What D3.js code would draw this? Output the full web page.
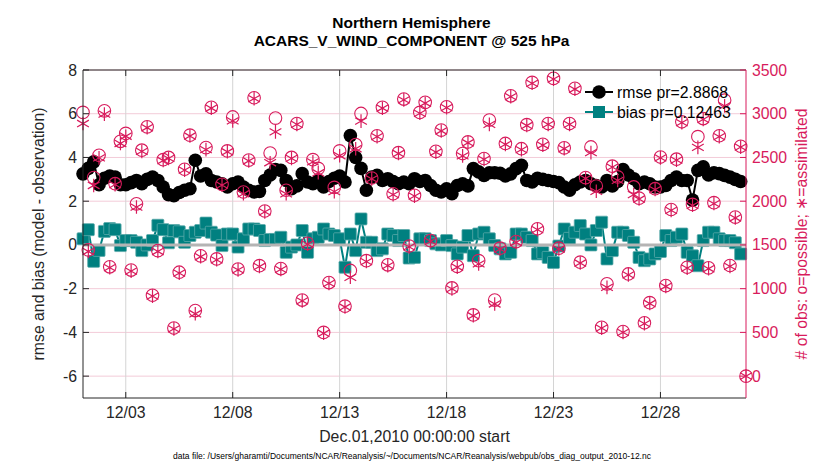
<!DOCTYPE html>
<html>
<head>
<meta charset="utf-8">
<script src="https://cdn.jsdelivr.net/npm/d3@7"></script>
<style>
    body { margin: 0; background: #fff; }
    text { font-family: "Liberation Sans", Arial, Helvetica, sans-serif; }
</style>
</head>
<body>
<div id="chart"></div>
<script>
'use strict';

// 6-hourly values, Dec 01 2010 00Z onwards (4 per day)
const rmse = [
    3.25, 3.5, 3.8, 2.75,   3.05, 3.15, 3.1, 2.75,   2.75, 2.85, 2.95, 2.8,   3.0, 3.1, 2.95, 2.65,
    2.3, 2.25, 2.4, 2.5,    2.57, 3.87, 3.15, 3.25,  2.95, 2.88, 2.8, 2.65,   2.8, 2.88, 2.65, 2.5,
    2.42, 2.45, 2.95, 3.2,  3.45, 3.41, 2.95, 2.57,  2.7, 3.26, 2.88, 2.8,    2.95, 2.65, 2.9, 3.05,
    3.15, 2.88, 5.0, 4.0,   3.5, 2.5, 3.1, 3.18,     2.95, 3.03, 2.9, 2.8,    2.88, 2.8, 3.03, 2.9,
    2.95, 2.72, 2.5, 2.42,  2.57, 2.34, 2.72, 2.8,   2.7, 3.49, 3.34, 3.18,   3.3, 3.3, 3.28, 3.15,
    3.25, 3.49, 3.64, 2.95, 2.88, 3.05, 3.0, 2.95,   2.9, 2.85, 2.65, 2.5,    2.75, 2.88, 2.95, 2.8,
    2.72, 2.65, 2.95, 2.7,  2.9, 3.45, 3.2, 3.03,    2.8, 2.88, 2.8, 2.65,    2.65, 2.72, 2.95, 3.1,
    2.95, 2.95, 2.05, 3.41, 3.57, 3.2, 3.3, 3.26,    3.18, 3.1, 3.0, 2.9
];

const bias = [
    0.28, 0.7, -0.75, -0.25,  0.62, 0.75, 0.7, -0.03,   0.2, 0.2, 0.12, -0.26,   0.0, 0.2, 0.9, 0.7,
    0.1, 0.66, 0.6, 0.12,     0.43, 0.58, 0.66, 1.0,    0.58, 0.45, -0.03, 0.5,  0.5, -0.1, 0.28, 0.73,
    0.73, 0.66, 0.2, 0.25,    0.25, 0.35, -0.34, -0.1,  0.0, 0.66, -0.34, 0.28,  0.35, 0.73, 0.5, 0.43,
    0.28, -1.02, 0.5, -0.26,  1.19, 0.12, 0.12, -0.26,  -0.18, 0.5, 0.43, 0.2,   0.43, -0.6, -0.57, 0.28,
    0.28, 0.2, 0.05, 0.0,     0.2, -0.03, -0.41, -0.1,  0.43, -0.49, 0.5, 0.58,  0.28, -0.03, -0.18, -0.41,
    -0.34, 0.5, 0.5, 0.35,    0.2, -0.41, -0.35, -0.57, -0.8, -0.05, 0.73, 0.3,  0.58, 0.89, 0.5, 0.0,
    0.66, 1.04, -0.64, -0.26, 0.58, 0.58, 0.43, 0.12,   -0.57, -0.72, -0.64, -0.41, -0.3, 0.43, 0.2, 0.35,
    0.5, -0.34, -0.5, -0.95,  0.2, 0.58, 0.58, 0.28,    0.2, 0.2, 0.1, -0.41
];

// number of observations, same 6-hourly steps plus Jan 01 00Z
const obsPossible = [
    3015, 1443, 2270, 2525,  3033, 1250, 2200, 2685,  2775, 1213, 1970, 2583,  2850, 925, 1435, 2475,
    2500, 550, 1188, 2365,   2755, 750, 1375, 2613,   3073, 1340, 2193, 2575,  2963, 1225, 2105, 2470,
    3183, 1263, 1888, 2550,  2950, 1230, 2125, 2500,  2888, 870, 1518, 2475,   2375, 500, 1070, 2158,
    2575, 800, 1208, 2648,   3003, 1320, 2265, 2748,  3073, 1273, 2085, 2555,  3168, 1488, 2068, 3015,
    3130, 1550, 2570, 2813,  3080, 1008, 1255, 2545,  2678, 700, 1320, 2488,   2928, 870, 1463, 2660,
    3205, 1538, 2600, 2875,  3358, 1685, 2650, 2888,  3405, 1463, 2610, 2888,  3290, 1303, 2270, 2620,
    2173, 558, 1055, 2400,   2278, 510, 1168, 2163,   2035, 610, 840, 2143,    2505, 1035, 1905, 2480,
    2908, 1245, 1963, 2738,  2945, 1238, 1983, 2748,  3155, 1265, 1818, 2628,  0
];

const obsAssim = [
    2888, 1425, 2180, 2495,  2995, 1240, 2190, 2660,  2743, 1200, 1933, 2570,  2840, 915, 1425, 2465,
    2490, 540, 1178, 2355,   2745, 713, 1365, 2590,   3063, 1330, 2183, 2565,  2918, 1215, 2085, 2460,
    3173, 1253, 1878, 2440,  2793, 1220, 2085, 2490,  2878, 860, 1508, 2450,   2325, 490, 1060, 2110,
    2520, 790, 1130, 2600,   2915, 1310, 2255, 2738,  3063, 1263, 2075, 2545,  3158, 1478, 2058, 3005,
    3120, 1540, 2560, 2803,  3070, 998, 1245, 2518,   2668, 690, 1283, 2478,   2878, 825, 1453, 2650,
    3195, 1528, 2590, 2865,  3348, 1675, 2640, 2878,  3395, 1453, 2600, 2878,  3280, 1293, 2260, 2555,
    2113, 548, 1015, 2390,   2238, 500, 1158, 2075,   2025, 600, 830, 2133,    2495, 1025, 1895, 2470,
    2898, 1235, 1953, 2615,  2935, 1228, 1973, 2738,  3090, 1255, 1808, 2618,  0
];

const stepDays = 0.25;
const dayTicks = [2, 7, 12, 17, 22, 27];
const dayTickLabels = ['12/03', '12/08', '12/13', '12/18', '12/23', '12/28'];
const leftTicks = [-6, -4, -2, 0, 2, 4, 6, 8];
const rightTicks = [0, 500, 1000, 1500, 2000, 2500, 3000, 3500];

const width = 830;
const height = 470;
const margin = { left: 83, right: 84, top: 70, bottom: 72 };
const pink = '#d81b5c';
const teal = '#008080';
const fontSize = 15.8;

var svg = d3.select('#chart').append('svg')
    .attr('width', width)
    .attr('height', height);

var x = d3.scaleLinear().domain([0, 31]).range([margin.left, width - margin.right]);
var yL = d3.scaleLinear().domain([-7, 8]).range([height - margin.bottom, margin.top]);
var yR = d3.scaleLinear().domain([-250, 3500]).range([height - margin.bottom, margin.top]);

var x0 = x.range()[0], x1 = x.range()[1];
var yTop = yL.range()[1], yBot = yL.range()[0];

// grid
var grid = svg.append('g');
grid.selectAll('.hg').data(rightTicks).enter().append('line')
    .attr('x1', x0).attr('x2', x1)
    .attr('y1', d => yR(d)).attr('y2', d => yR(d))
    .attr('stroke', '#f3cbd8').attr('stroke-width', 1);
grid.selectAll('.vg').data(dayTicks).enter().append('line')
    .attr('x1', d => x(d)).attr('x2', d => x(d))
    .attr('y1', yTop).attr('y2', yBot)
    .attr('stroke', '#d4d4d4').attr('stroke-width', 1);

// rmse
var rmsePts = rmse.map((v, i) => [i * stepDays, v]);
var line = d3.line().x(d => x(d[0])).y(d => yL(d[1]));
svg.append('path').datum(rmsePts).attr('d', line)
    .attr('fill', 'none').attr('stroke', '#000').attr('stroke-width', 2);
svg.append('g').selectAll('circle').data(rmsePts).enter().append('circle')
    .attr('cx', d => x(d[0])).attr('cy', d => yL(d[1])).attr('r', 6.8)
    .attr('fill', '#000');

// bias
var biasPts = bias.map((v, i) => [i * stepDays, v]);
svg.append('path').datum(biasPts).attr('d', line)
    .attr('fill', 'none').attr('stroke', teal).attr('stroke-width', 2);
svg.append('g').selectAll('rect').data(biasPts).enter().append('rect')
    .attr('x', d => x(d[0]) - 6).attr('y', d => yL(d[1]) - 6)
    .attr('width', 12).attr('height', 12).attr('rx', 1)
    .attr('fill', teal).attr('stroke', '#5aa9a9').attr('stroke-width', 0.8);

// zero line
svg.append('line')
    .attr('x1', x0).attr('x2', x1)
    .attr('y1', yL(0)).attr('y2', yL(0))
    .attr('stroke', '#b4b4b4').attr('stroke-width', 3);

// obs counts
var obsG = svg.append('g');
obsG.selectAll('circle').data(obsPossible).enter().append('circle')
    .attr('cx', (d, i) => x(i * stepDays)).attr('cy', d => yR(d)).attr('r', 6.3)
    .attr('fill', 'none').attr('stroke', pink).attr('stroke-width', 1.1);

function asterisk(r) {
    var a = r * Math.cos(Math.PI / 6), b = r * Math.sin(Math.PI / 6);
    return 'M0,' + (-r) + 'L0,' + r +
        'M' + (-a) + ',' + (-b) + 'L' + a + ',' + b +
        'M' + (-a) + ',' + b + 'L' + a + ',' + (-b);
}
obsG.selectAll('path').data(obsAssim).enter().append('path')
    .attr('d', asterisk(6.8))
    .attr('transform', (d, i) => 'translate(' + x(i * stepDays) + ',' + yR(d) + ')')
    .attr('fill', 'none').attr('stroke', pink).attr('stroke-width', 1.2);

// frame
var frame = svg.append('g').attr('fill', 'none');
frame.append('line').attr('x1', x0).attr('x2', x1).attr('y1', yTop).attr('y2', yTop).attr('stroke', '#262626');
frame.append('line').attr('x1', x0).attr('x2', x1).attr('y1', yBot).attr('y2', yBot).attr('stroke', '#262626');
frame.append('line').attr('x1', x0).attr('x2', x0).attr('y1', yTop).attr('y2', yBot).attr('stroke', '#262626');
frame.append('line').attr('x1', x1).attr('x2', x1).attr('y1', yTop).attr('y2', yBot).attr('stroke', pink);

// x ticks (inward, top and bottom)
dayTicks.forEach(function (d) {
    frame.append('line').attr('x1', x(d)).attr('x2', x(d)).attr('y1', yBot).attr('y2', yBot - 6).attr('stroke', '#262626');
    frame.append('line').attr('x1', x(d)).attr('x2', x(d)).attr('y1', yTop).attr('y2', yTop + 6).attr('stroke', '#262626');
});
leftTicks.forEach(function (d) {
    frame.append('line').attr('x1', x0).attr('x2', x0 + 6).attr('y1', yL(d)).attr('y2', yL(d)).attr('stroke', '#262626');
});
rightTicks.forEach(function (d) {
    frame.append('line').attr('x1', x1).attr('x2', x1 - 6).attr('y1', yR(d)).attr('y2', yR(d)).attr('stroke', pink);
});

// tick labels
var labels = svg.append('g').attr('font-size', fontSize);
labels.selectAll('.xl').data(dayTicks).enter().append('text')
    .attr('x', d => x(d)).attr('y', yBot + 20)
    .attr('text-anchor', 'middle').attr('fill', '#262626')
    .text((d, i) => dayTickLabels[i]);
labels.selectAll('.yl').data(leftTicks).enter().append('text')
    .attr('x', x0 - 6).attr('y', d => yL(d) + 5.5)
    .attr('text-anchor', 'end').attr('fill', '#262626')
    .text(d => d);
labels.selectAll('.yr').data(rightTicks).enter().append('text')
    .attr('x', x1 + 6).attr('y', d => yR(d) + 5.5)
    .attr('text-anchor', 'start').attr('fill', pink)
    .text(d => d);

// axis titles
svg.append('text').attr('x', (x0 + x1) / 2).attr('y', yBot + 44)
    .attr('text-anchor', 'middle').attr('font-size', fontSize).attr('fill', '#262626')
    .text('Dec.01,2010 00:00:00 start');
svg.append('text')
    .attr('transform', 'translate(' + 44 + ',' + (yTop + yBot) / 2 + ') rotate(-90)')
    .attr('text-anchor', 'middle').attr('font-size', fontSize).attr('fill', '#262626')
    .text('rmse and bias (model - observation)');
svg.append('text')
    .attr('transform', 'translate(' + 807 + ',' + (yTop + yBot) / 2 + ') rotate(-90)')
    .attr('text-anchor', 'middle').attr('font-size', fontSize).attr('fill', pink)
    .text('# of obs: o=possible; \u2217=assimilated');

// title
svg.append('text').attr('x', (x0 + x1) / 2 - 3).attr('y', 28)
    .attr('text-anchor', 'middle').attr('font-size', 15.5).attr('font-weight', 'bold').attr('fill', '#000')
    .text('Northern Hemisphere');
svg.append('text').attr('x', (x0 + x1) / 2 - 3).attr('y', 46)
    .attr('text-anchor', 'middle').attr('font-size', 15.5).attr('font-weight', 'bold').attr('fill', '#000')
    .text('ACARS_V_WIND_COMPONENT @ 525 hPa');

// footer
svg.append('text').attr('x', 412).attr('y', 459)
    .attr('text-anchor', 'middle').attr('font-size', 8.5).attr('fill', '#000')
    .text('data file: /Users/gharamti/Documents/NCAR/Reanalysis/~/Documents/NCAR/Reanalysis/webpub/obs_diag_output_2010-12.nc');

// legend
var legend = svg.append('g').attr('font-size', fontSize);
var lgX = 585, lgY = [92, 112];
legend.append('line').attr('x1', lgX).attr('x2', lgX + 28).attr('y1', lgY[0]).attr('y2', lgY[0])
    .attr('stroke', '#000').attr('stroke-width', 2);
legend.append('circle').attr('cx', lgX + 14).attr('cy', lgY[0]).attr('r', 6.8).attr('fill', '#000');
legend.append('text').attr('x', lgX + 32).attr('y', lgY[0] + 5.5).attr('fill', '#000').text('rmse pr=2.8868');
legend.append('line').attr('x1', lgX).attr('x2', lgX + 28).attr('y1', lgY[1]).attr('y2', lgY[1])
    .attr('stroke', teal).attr('stroke-width', 2);
legend.append('rect').attr('x', lgX + 8).attr('y', lgY[1] - 6).attr('width', 12).attr('height', 12)
    .attr('fill', teal);
legend.append('text').attr('x', lgX + 32).attr('y', lgY[1] + 5.5).attr('fill', '#000').text('bias pr=0.12463');
</script>
</body>
</html>
